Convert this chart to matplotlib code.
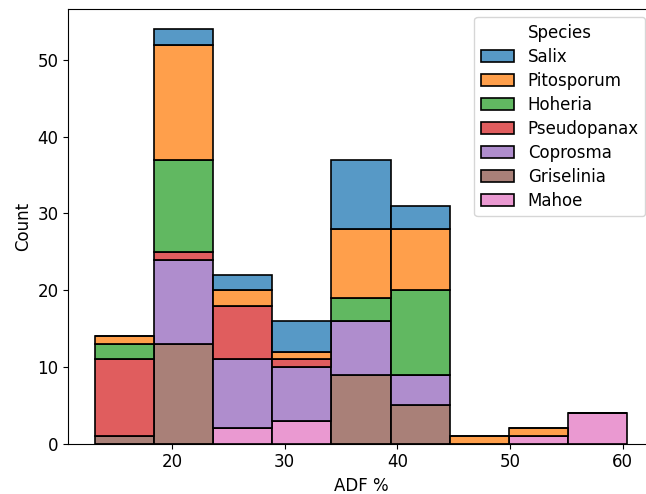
import numpy as np
import pandas as pd
import matplotlib
matplotlib.use('Agg')
import matplotlib.pyplot as plt
import seaborn as sns

plt.rcParams['font.size'] = 12

# ADF % range and number of bins
adf_min, adf_max = 13.17, 60.39
n_bins = 9

species = ['Salix', 'Pitosporum', 'Hoheria', 'Pseudopanax',
           'Coprosma', 'Griselinia', 'Mahoe']

# counts per bin for each species
salix       = [0, 2, 2, 4, 9, 3, 0, 0, 0]
pitosporum  = [1, 15, 2, 1, 9, 8, 1, 1, 0]
hoheria     = [2, 12, 0, 0, 3, 11, 0, 0, 0]
pseudopanax = [10, 1, 7, 1, 0, 0, 0, 0, 0]
coprosma    = [0, 11, 9, 7, 7, 4, 0, 0, 0]
griselinia  = [1, 13, 0, 0, 9, 5, 0, 0, 0]
mahoe       = [0, 0, 2, 3, 0, 0, 0, 1, 4]

counts = [salix, pitosporum, hoheria, pseudopanax, coprosma, griselinia, mahoe]
edges = np.linspace(adf_min, adf_max, n_bins + 1)
centers = (edges[:-1] + edges[1:]) / 2

rows = []
for name, c in zip(species, counts):
    for x, n in zip(centers, c):
        rows.append({'ADF %': x, 'Species': name, 'n': n})
df = pd.DataFrame(rows)

fig = plt.figure(figsize=(6.46, 4.94), dpi=100)
ax = fig.add_axes([0.1057, 0.1018, 0.9064, 0.8808])

sns.histplot(data=df, x='ADF %', hue='Species', weights='n',
             hue_order=species, bins=n_bins, binrange=(adf_min, adf_max),
             multiple='stack', edgecolor='black', linewidth=1.2, ax=ax)
sns.move_legend(ax, 'upper right', labelspacing=0.36)

ax.set_ylabel('Count')
ax.set_xlabel('ADF %')

fig.savefig('out.png', dpi=100)
